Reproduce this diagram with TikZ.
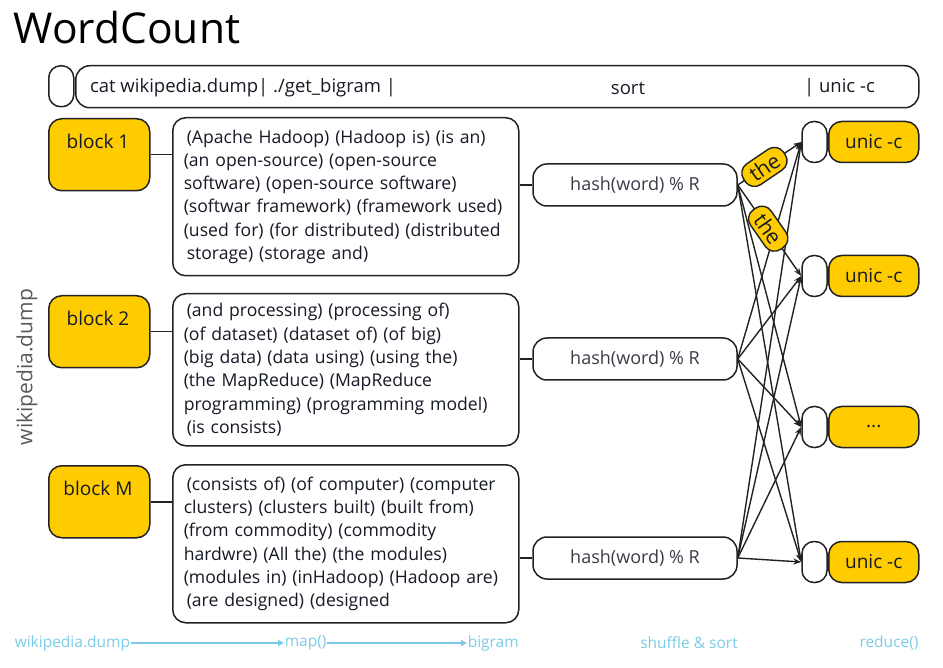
\documentclass[tikz,border=0pt]{standalone}
\usepackage{fontspec}
\setmainfont{Open Sans}
\usetikzlibrary{arrows.meta}
\definecolor{yel}{HTML}{FFCC00}
\definecolor{ink}{HTML}{222222}
\definecolor{txt}{HTML}{161A26}
\definecolor{sky}{HTML}{7CCBE6}
\definecolor{dumpgray}{HTML}{5A5A5A}
\newcommand{\fs}[2]{\fontsize{#1}{#2}\selectfont}
\begin{document}
\begin{tikzpicture}[x=1pt,y=-1pt,
  line width=1.5pt,
  outline/.style={draw=ink, rounded corners=13pt, inner sep=0pt},
  blockbox/.style={outline, fill=yel, minimum width=101pt, minimum height=72pt, anchor=north west},
  blocklbl/.style={text=txt, font=\fs{19}{22}},
  bigramtxt/.style={outline, fill=white, anchor=north west, text=txt, align=left,
     text width=324pt, inner xsep=11pt, minimum height=158pt, font=\fs{17.6}{23.3}},
  hashbox/.style={outline, rounded corners=14pt, minimum width=204pt, minimum height=42pt,
     text=txt!85, font=\fs{18}{20}},
  slot/.style={outline, rounded corners=12pt, minimum width=25pt, minimum height=41pt},
  redbox/.style={outline, fill=yel, minimum width=90pt, minimum height=41pt, text=txt, font=\fs{19}{22}},
  arr/.style={draw=ink, line width=1.4pt, -{Stealth[length=8pt,width=6pt]}},
  thelbl/.style={outline, fill=yel, rounded corners=11pt, inner xsep=8pt, inner ysep=0pt,
     minimum height=25pt, text=txt, font=\fs{21}{22}},
  flow/.style={sky, font=\fs{15.5}{18}},
  flowarr/.style={draw=sky, line width=1.2pt, -{Triangle[length=6pt,width=6pt]}}
]
\useasboundingbox (0,0) rectangle (943,668);

% title
\node[anchor=base west, inner sep=0pt, text=black, font=\fs{42.5}{46}] (title) at (13,44) {WordCount};

% shell pipeline
\node[slot, anchor=north west] (pre) at (48,65) {};
\node[outline, rounded corners=14pt, anchor=north west, minimum width=843pt, minimum height=42pt] (pipe) at (75,65) {};
\node[anchor=west, text=txt, font=\fs{18.5}{22}] (cmd) at (86,88) {cat wikipedia.dump| ./get\_bigram |};
\node[text=txt, font=\fs{18.5}{22}] (srt) at (628,88) {sort};
\node[anchor=west, text=txt, font=\fs{18.5}{22}] (uniq) at (800,88) {| unic -c};

% input blocks
\node[blockbox] (b1) at (48,118) {};
\node[blocklbl] (b1t) at (98,141) {block 1};
\node[blockbox] (b2) at (48,295) {};
\node[blocklbl] (b2t) at (98,318) {block 2};
\node[blockbox] (b3) at (48,465) {};
\node[blocklbl] (b3t) at (98,488) {block M};

% bigrams produced by map()
\node[bigramtxt] (t1) at (172,117) {\hspace{3pt}(Apache Hadoop) (Hadoop is) (is an)\\
(an open-source) (open-source\\
software) (open-source software)\\
(softwar framework) (framework used)\\
(used for) (for distributed) (distributed\\
\hspace{3pt}storage) (storage and)};
\node[bigramtxt, minimum height=152pt] (t2) at (172,293) {\hspace{3pt}(and processing) (processing of)\\
(of dataset) (dataset of) (of big)\\
(big data) (data using) (using the)\\
(the MapReduce) (MapReduce\\
programming) (programming model)\\
\hspace{3pt}(is consists)};
\node[bigramtxt] (t3) at (172,464) {\hspace{3pt}(consists of) (of computer) (computer\\
clusters) (clusters built) (built from)\\
(from commodity) (commodity\\
hardwre) (All the) (the modules)\\
(modules in) (inHadoop) (Hadoop are)\\
\hspace{3pt}(are designed) (designed};

% partitioners
\node[hashbox] (h1) at (635,185) {hash(word) \% R};
\node[hashbox] (h2) at (635,359) {hash(word) \% R};
\node[hashbox] (h3) at (635,558) {hash(word) \% R};

% reducers
\node[slot] (s1) at (814.5,142) {};
\node[slot] (s2) at (814.5,276) {};
\node[slot] (s3) at (814.5,427) {};
\node[slot] (s4) at (814.5,562) {};
\node[redbox, anchor=west] (r1) at (828,142) {unic -c};
\node[redbox, anchor=west] (r2) at (828,276) {unic -c};
\node[redbox, anchor=west] (r3) at (828,427) {...};
\node[redbox, anchor=west] (r4) at (828,562) {unic -c};

% block -> bigram list -> partitioner
\draw[ink] (b1.east) -- (b1.east -| t1.west);
\draw[ink] (b2.east) -- (b2.east -| t2.west);
\draw[ink] (b3.east) -- (b3.east -| t3.west);
\draw[ink] (h1.west -| t1.east) -- (h1.west);
\draw[ink] (h2.west -| t2.east) -- (h2.west);
\draw[ink] (h3.west -| t3.east) -- (h3.west);

% shuffle
\draw[arr] (h1.east) -- (s3.west);
\draw[arr] (h1.east) -- (s4.west);
\draw[arr] (h2.east) -- (s1.west);
\draw[arr] (h2.east) -- (s2.west);
\draw[arr] (h2.east) -- (s3.west);
\draw[arr] (h2.east) -- (s4.west);
\draw[arr] (h3.east) -- (s1.west);
\draw[arr] (h3.east) -- (s2.west);
\draw[arr] (h3.east) -- (s3.west);
\draw[arr] (h3.east) -- (s4.west);
\draw[arr] (h1.east) -- node[thelbl, sloped, pos=0.42] (the1) {the} (s1.west);
\draw[arr] (h1.east) -- node[thelbl, sloped, pos=0.48] (the2) {the} (s2.west);

% side caption
\node[rotate=90, text=dumpgray, font=\fs{21}{24}] (dump) at (27,367) {wikipedia.dump};

% stage legend
\node[flow, anchor=west, inner sep=0pt] (fw) at (14,643) {wikipedia.dump};
\node[flow, anchor=west, inner sep=0pt] (fm) at (284,643) {map()};
\node[flow, anchor=west, inner sep=0pt] (fb) at (467,643) {bigram};
\node[flow] (fs) at (689,643) {shuffle \& sort};
\node[flow] (fr) at (889,643) {reduce()};
\draw[flowarr] (fw.east) -- (fm.west);
\draw[flowarr] (fm.east) -- (fb.west);
\end{tikzpicture}
\end{document}
